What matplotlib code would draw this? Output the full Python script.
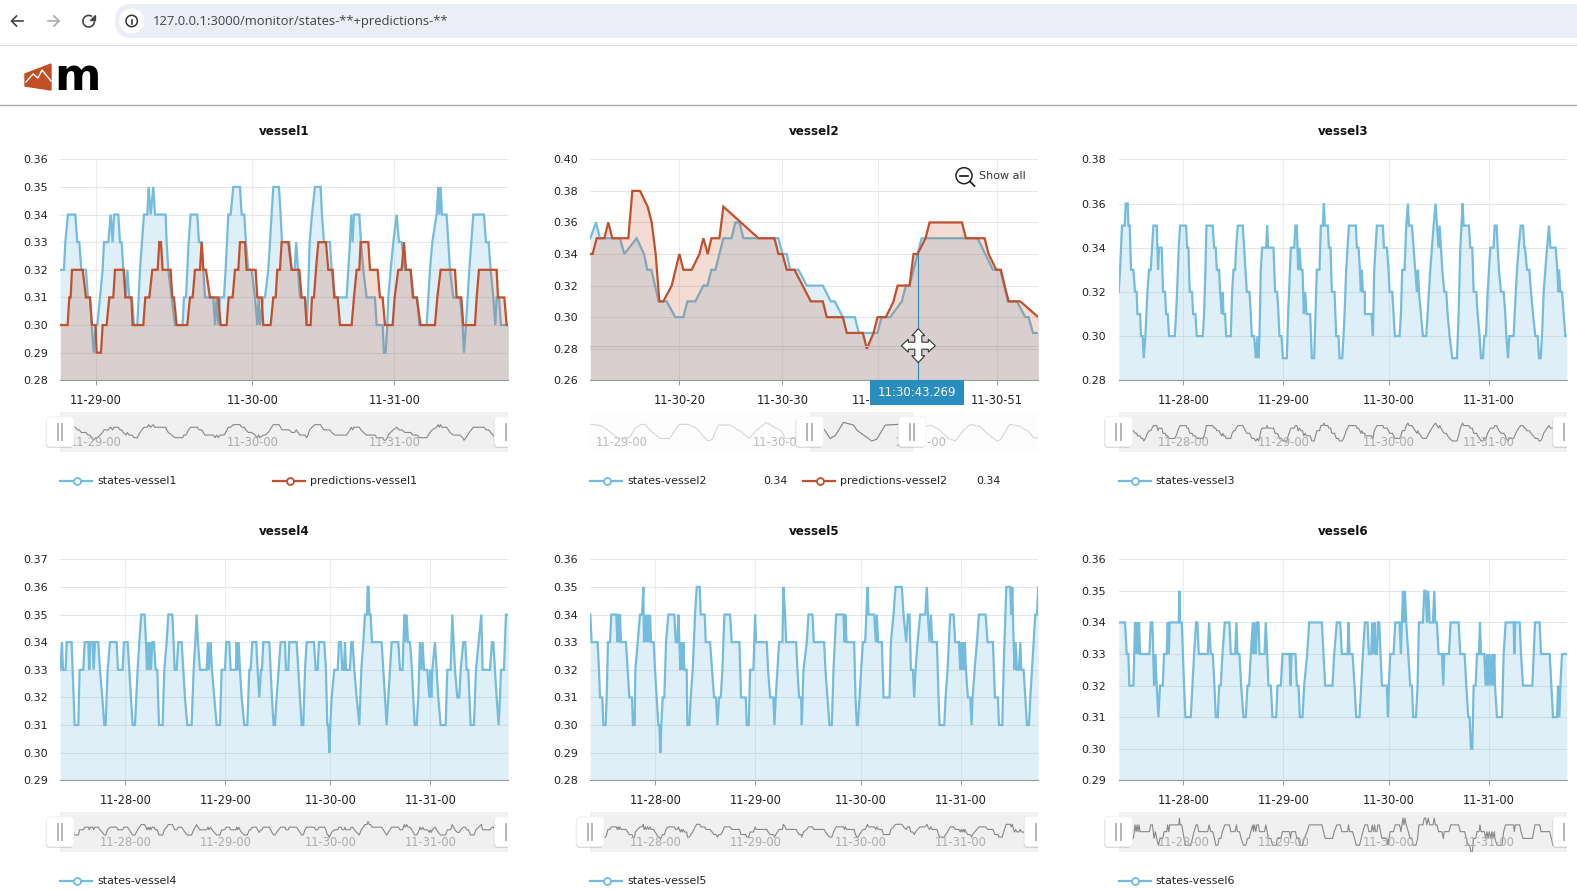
import matplotlib

matplotlib.use("Agg")
import matplotlib.pyplot as plt  # noqa: E402
from matplotlib.patches import Arc, Circle, FancyBboxPatch, Polygon, Rectangle  # noqa: E402

W, H = 1577, 890

STATE = "#73bcdd"
PRED = "#c1502b"
GRID = "#e6e6e6"
VGRID = "#ececec"
AXIS = "#999999"
INK = "#222222"
BAND = "#f0f0f0"
CURSOR = "#2a8dbf"

plt.rcParams.update({"font.family": ["DejaVu Sans"], "font.size": 8})

# each series: (sample position on the category axis, value)
V1_STATES = [
    (181, .32), (192, .32), (196, .33), (204, .34), (226, .34), (232, .33), (238, .33), (244, .32), (258, .32),
    (264, .31), (270, .31), (275, .30), (281, .29), (287, .30), (292, .30), (300, .31), (308, .32), (312, .33),
    (325, .33), (332, .34), (338, .33), (342, .34), (355, .34), (360, .33), (365, .33), (370, .32), (378, .31),
    (382, .32), (388, .31), (396, .31), (402, .30), (412, .30), (416, .31), (420, .32), (426, .33), (432, .34),
    (442, .34), (446, .35), (452, .34), (460, .35), (465, .34), (497, .34), (500, .33), (505, .32), (515, .31),
    (525, .30), (548, .30), (552, .31), (558, .31), (562, .32), (566, .33), (572, .34), (592, .34), (597, .33),
    (605, .33), (610, .32), (615, .31), (640, .31), (645, .30), (650, .31), (655, .30), (660, .31), (672, .31),
    (677, .32), (681, .33), (685, .34), (692, .34), (700, .35), (720, .35), (725, .34), (733, .34), (738, .33),
    (745, .32), (755, .32), (765, .31), (772, .30), (776, .31), (780, .30), (790, .31), (795, .31), (805, .32),
    (810, .33), (815, .34), (820, .35), (837, .35), (842, .34), (846, .33), (868, .33), (875, .32), (884, .32),
    (889, .33), (894, .32), (900, .31), (915, .31), (920, .30), (924, .31), (929, .33), (936, .34), (945, .35),
    (962, .35), (966, .34), (972, .33), (990, .33), (995, .32), (1005, .31), (1040, .31), (1045, .32), (1050, .33),
    (1054, .34), (1058, .33), (1062, .34), (1078, .34), (1083, .33), (1090, .32), (1100, .31), (1125, .31),
    (1130, .30), (1148, .30), (1152, .29), (1157, .29), (1162, .30), (1165, .31), (1172, .32), (1180, .33),
    (1190, .34), (1197, .33), (1205, .33), (1215, .32), (1232, .32), (1238, .31), (1252, .31), (1258, .30),
    (1280, .30), (1285, .31), (1290, .32), (1297, .33), (1310, .34), (1315, .35), (1318, .34), (1322, .35),
    (1326, .34), (1340, .34), (1345, .33), (1350, .32), (1360, .31), (1380, .31), (1388, .30), (1392, .29),
    (1398, .30), (1403, .31), (1408, .32), (1414, .33), (1420, .34), (1452, .34), (1458, .33), (1466, .33),
    (1472, .32), (1480, .31), (1486, .30), (1490, .31), (1497, .31), (1503, .30), (1525, .30),
]
V1_PREDS = [
    (181, .30), (203, .30), (208, .31), (212, .31), (216, .32), (248, .32), (258, .31), (270, .31), (276, .30),
    (287, .30), (290, .29), (303, .29), (308, .30), (320, .30), (328, .31), (340, .31), (345, .32), (372, .32),
    (376, .31), (394, .31), (398, .30), (430, .30), (436, .31), (448, .31), (457, .32), (473, .32), (478, .33),
    (483, .33), (488, .32), (512, .32), (517, .31), (522, .31), (530, .30), (562, .30), (570, .31), (578, .31),
    (585, .32), (600, .32), (605, .33), (610, .32), (618, .32), (630, .31), (655, .31), (662, .30), (680, .30),
    (686, .31), (698, .31), (705, .32), (715, .32), (720, .33), (735, .33), (740, .32), (767, .32), (772, .31),
    (785, .31), (790, .30), (812, .30), (820, .31), (827, .31), (832, .32), (840, .32), (845, .33), (865, .33),
    (875, .32), (898, .32), (905, .31), (915, .31), (920, .30), (932, .30), (936, .31), (942, .31), (948, .32),
    (955, .33), (978, .33), (985, .32), (998, .32), (1003, .31), (1013, .31), (1020, .30), (1055, .30),
    (1062, .31), (1070, .32), (1078, .32), (1082, .33), (1105, .33), (1110, .32), (1133, .32), (1140, .31),
    (1148, .31), (1155, .30), (1178, .30), (1184, .31), (1195, .32), (1205, .32), (1212, .33), (1218, .32),
    (1232, .32), (1240, .31), (1250, .31), (1262, .30), (1305, .30), (1312, .31), (1322, .32), (1365, .32),
    (1370, .31), (1384, .31), (1390, .30), (1425, .30), (1430, .31), (1437, .32), (1490, .32), (1494, .31),
    (1513, .31), (1520, .30), (1525, .30),
]
V2_STATES = [
    (151, .35), (168, .36), (180, .35), (240, .35), (253, .34), (290, .35), (312, .34), (322, .33), (334, .33),
    (356, .31), (380, .31), (406, .30), (430, .30), (442, .31), (466, .31), (490, .32), (502, .32), (514, .33),
    (526, .33), (550, .35), (574, .35), (586, .36), (598, .36), (610, .35), (715, .35), (727, .34), (740, .34),
    (750, .33), (775, .33), (800, .32), (848, .32), (872, .31), (884, .31), (908, .30), (944, .30), (956, .29),
    (1012, .29), (1024, .30), (1050, .30), (1085, .31), (1097, .32), (1108, .32), (1120, .33), (1132, .34),
    (1144, .35), (1312, .35), (1335, .34), (1358, .33), (1380, .33), (1403, .31), (1430, .31), (1455, .30),
    (1465, .30), (1478, .29), (1494, .29),
]
V2_PREDS = [
    (151, .34), (158, .34), (170, .35), (193, .35), (205, .36), (217, .35), (265, .35), (277, .38), (300, .38),
    (323, .37), (335, .36), (347, .34), (358, .31), (370, .31), (395, .32), (418, .34), (430, .33), (455, .33),
    (478, .34), (490, .35), (503, .34), (514, .35), (538, .35), (550, .37), (655, .35), (703, .35), (715, .34),
    (727, .34), (740, .33), (763, .33), (812, .31), (848, .31), (860, .30), (908, .30), (920, .29), (968, .29),
    (980, .28), (1000, .29), (1012, .30), (1037, .30), (1060, .31), (1072, .32), (1108, .32), (1120, .34),
    (1132, .34), (1156, .35), (1168, .36), (1265, .36), (1277, .35), (1333, .35), (1345, .34), (1368, .33),
    (1382, .33), (1393, .32), (1405, .31), (1440, .31), (1494, .30),
]
# vessel2 main view is zoomed, so the slider preview holds the whole series
V2_OVERVIEW = [
    (153, .3525), (185, .3475), (210, .325), (235, .30), (255, .2975), (270, .306), (285, .3375), (303, .3525),
    (315, .3525), (335, .325), (360, .30), (390, .30), (405, .331), (417, .3525), (445, .3525), (470, .3375),
    (500, .294), (507, .29), (517, .2975), (535, .35), (570, .35), (600, .3275), (627, .30), (650, .331),
    (678, .36), (700, .344), (725, .3275), (735, .30), (760, .30), (790, .32), (820, .34), (850, .3375),
    (870, .30), (885, .31), (910, .36), (940, .35), (950, .331), (995, .29), (1010, .2975), (1035, .35),
    (1072, .3525), (1110, .345), (1155, .344), (1170, .35), (1195, .335), (1225, .30), (1245, .29), (1270, .331),
    (1290, .3525), (1320, .344), (1340, .319), (1370, .29), (1380, .294), (1408, .3525), (1435, .3475),
    (1465, .325), (1480, .3025), (1494, .3025),
]
V3_STATES = [
    (176, .32), (180, .33), (183, .34), (186, .35), (194, .35), (197, .36), (203, .36), (205, .35), (209, .35),
    (213, .33), (220, .33), (225, .32), (230, .32), (232, .31), (240, .31), (243, .30), (248, .30), (251, .29),
    (256, .30), (262, .32), (267, .33), (272, .33), (276, .34), (280, .35), (290, .35), (294, .33), (297, .34),
    (305, .34), (309, .32), (315, .32), (318, .31), (323, .31), (327, .30), (344, .30), (348, .31), (351, .32),
    (356, .34), (360, .35), (378, .35), (381, .34), (385, .34), (389, .32), (396, .32), (399, .31), (406, .31),
    (410, .30), (428, .30), (432, .31), (436, .33), (439, .35), (458, .35), (462, .34), (467, .34), (470, .33),
    (477, .33), (480, .32), (485, .31), (488, .32), (490, .31), (495, .31), (498, .30), (512, .30), (516, .32),
    (520, .33), (525, .33), (528, .34), (533, .35), (548, .35), (552, .34), (556, .33), (560, .32), (568, .32),
    (572, .31), (575, .30), (582, .30), (587, .29), (592, .30), (595, .29), (598, .30), (602, .33), (606, .34),
    (618, .34), (621, .35), (624, .34), (640, .34), (645, .32), (651, .32), (655, .31), (658, .30), (664, .30),
    (668, .29), (680, .29), (684, .31), (692, .34), (702, .34), (706, .35), (710, .35), (714, .33), (718, .34),
    (722, .33), (727, .33), (731, .31), (735, .32), (739, .31), (750, .31), (755, .29), (762, .29), (766, .31),
    (770, .33), (778, .33), (782, .35), (788, .35), (791, .36), (794, .35), (803, .35), (806, .34), (811, .34),
    (815, .32), (823, .32), (828, .30), (835, .30), (838, .29), (846, .29), (850, .30), (853, .31), (858, .33),
    (862, .34), (866, .35), (887, .35), (890, .34), (895, .34), (899, .33), (902, .32), (905, .33), (908, .32),
    (914, .32), (914, .31), (934, .31), (938, .30), (942, .33), (946, .34), (950, .35), (968, .35), (971, .34),
    (980, .34), (985, .33), (988, .32), (996, .32), (1000, .31), (1004, .30), (1018, .30), (1022, .31),
    (1026, .33), (1033, .33), (1038, .35), (1043, .36), (1046, .35), (1055, .35), (1060, .34), (1065, .33),
    (1070, .32), (1073, .33), (1076, .32), (1082, .31), (1088, .30), (1098, .30), (1102, .31), (1110, .33),
    (1115, .34), (1120, .35), (1126, .36), (1130, .35), (1135, .34), (1138, .35), (1142, .34), (1146, .33),
    (1152, .32), (1158, .32), (1162, .31), (1168, .30), (1176, .29), (1190, .29), (1195, .31), (1200, .34),
    (1207, .36), (1210, .35), (1226, .35), (1230, .34), (1236, .34), (1240, .32), (1248, .32), (1252, .31),
    (1258, .30), (1262, .29), (1268, .29), (1272, .30), (1277, .30), (1282, .32), (1286, .33), (1290, .34),
    (1300, .34), (1303, .35), (1309, .35), (1312, .34), (1316, .33), (1322, .32), (1330, .32), (1335, .31),
    (1338, .30), (1343, .29), (1347, .30), (1360, .30), (1363, .31), (1370, .33), (1375, .34), (1381, .35),
    (1388, .35), (1392, .34), (1394, .34), (1400, .33), (1407, .33), (1412, .32), (1418, .31), (1425, .30),
    (1432, .30), (1436, .29), (1441, .29), (1445, .30), (1450, .32), (1455, .33), (1460, .34), (1466, .35),
    (1470, .34), (1486, .34), (1491, .33), (1494, .32), (1496, .33), (1500, .32), (1505, .32), (1510, .31),
    (1515, .30), (1519, .30),
]
V4_STATES = [
    (181, .33), (186, .34), (189, .33), (197, .33), (200, .34), (215, .34), (221, .32), (224, .31), (235, .31),
    (239, .33), (250, .33), (254, .34), (265, .34), (268, .33), (271, .34), (278, .34), (281, .33), (285, .34),
    (295, .34), (300, .33), (307, .32), (313, .31), (317, .31), (323, .33), (330, .34), (350, .34), (354, .33),
    (368, .33), (372, .34), (383, .34), (388, .33), (393, .32), (398, .31), (405, .31), (409, .32), (413, .33),
    (418, .34), (424, .35), (434, .35), (438, .34), (441, .33), (445, .34), (447, .33), (451, .34), (453, .33),
    (457, .34), (462, .34), (467, .33), (472, .33), (477, .31), (488, .31), (493, .33), (500, .34), (505, .35),
    (517, .35), (521, .34), (524, .33), (530, .33), (535, .34), (545, .34), (550, .33), (555, .32), (562, .31),
    (575, .31), (581, .33), (586, .34), (590, .35), (594, .34), (600, .33), (620, .33), (624, .34), (627, .33),
    (632, .34), (636, .33), (643, .32), (650, .31), (660, .31), (665, .33), (675, .33), (679, .34), (688, .34),
    (692, .33), (708, .33), (710, .34), (713, .33), (716, .34), (720, .33), (725, .32), (733, .31), (742, .31),
    (748, .33), (752, .33), (757, .34), (769, .34), (773, .33), (778, .32), (783, .33), (786, .33), (790, .34),
    (808, .34), (812, .33), (816, .32), (821, .31), (825, .31), (830, .32), (836, .33), (842, .34), (855, .34),
    (858, .33), (865, .33), (868, .34), (890, .34), (895, .33), (900, .32), (905, .31), (910, .31), (915, .33),
    (920, .34), (942, .34), (947, .33), (953, .33), (957, .34), (973, .34), (978, .33), (982, .31), (985, .31),
    (988, .30), (991, .31), (995, .32), (1003, .33), (1013, .33), (1017, .34), (1023, .34), (1027, .33),
    (1032, .33), (1035, .34), (1038, .33), (1050, .33), (1054, .34), (1058, .34), (1063, .33), (1070, .32),
    (1078, .31), (1084, .33), (1090, .34), (1095, .35), (1101, .35), (1103, .36), (1106, .36), (1108, .35),
    (1112, .35), (1116, .34), (1145, .34), (1150, .33), (1155, .32), (1160, .31), (1165, .32), (1170, .33),
    (1175, .34), (1195, .34), (1200, .33), (1208, .33), (1213, .35), (1216, .34), (1220, .35), (1224, .34),
    (1230, .34), (1236, .33), (1240, .32), (1244, .31), (1250, .31), (1255, .32), (1260, .34), (1264, .33),
    (1268, .34), (1272, .33), (1282, .33), (1288, .32), (1291, .33), (1294, .32), (1297, .33), (1305, .34),
    (1310, .33), (1315, .32), (1322, .31), (1337, .31), (1342, .33), (1352, .33), (1357, .35), (1361, .34),
    (1365, .33), (1372, .32), (1378, .32), (1382, .33), (1390, .34), (1396, .34), (1400, .33), (1405, .33),
    (1412, .31), (1422, .31), (1428, .33), (1436, .34), (1444, .35), (1448, .33), (1470, .33), (1476, .34),
    (1480, .34), (1485, .33), (1490, .32), (1496, .31), (1500, .32), (1503, .33), (1512, .33), (1518, .35),
    (1525, .35),
]
V5_STATES = [
    (151, .34), (155, .33), (173, .33), (177, .32), (180, .31), (187, .31), (190, .30), (197, .30), (200, .31),
    (204, .33), (210, .33), (214, .34), (229, .34), (232, .33), (235, .34), (237, .33), (240, .34), (243, .33),
    (258, .33), (263, .32), (268, .31), (276, .31), (279, .30), (284, .30), (286, .32), (293, .33), (300, .34),
    (306, .34), (310, .35), (312, .33), (316, .34), (319, .33), (323, .34), (326, .33), (330, .34), (333, .33),
    (341, .33), (345, .32), (350, .31), (355, .30), (358, .30), (361, .29), (364, .30), (368, .31), (373, .31),
    (378, .33), (385, .34), (403, .34), (407, .33), (412, .33), (415, .34), (418, .33), (421, .32), (424, .33),
    (427, .32), (430, .33), (433, .32), (440, .32), (442, .30), (448, .30), (452, .31), (458, .32), (465, .34),
    (470, .35), (479, .35), (482, .34), (494, .34), (497, .33), (510, .33), (516, .32), (522, .31), (528, .31),
    (532, .30), (537, .31), (542, .31), (547, .32), (553, .34), (570, .34), (575, .33), (598, .33), (603, .31),
    (617, .31), (620, .30), (626, .30), (630, .32), (640, .32), (645, .34), (648, .33), (680, .33), (684, .32),
    (690, .31), (700, .31), (703, .30), (707, .31), (712, .32), (717, .33), (727, .33), (730, .35), (735, .34),
    (738, .33), (768, .33), (772, .32), (777, .31), (783, .31), (785, .30), (790, .32), (800, .33), (805, .34),
    (817, .34), (821, .33), (852, .33), (856, .32), (862, .31), (868, .30), (875, .30), (880, .32), (888, .34),
    (910, .34), (913, .33), (916, .34), (919, .33), (942, .33), (946, .31), (950, .30), (953, .30), (958, .31),
    (963, .32), (968, .33), (975, .33), (982, .35), (985, .34), (1002, .34), (1007, .33), (1010, .34), (1014, .33),
    (1025, .33), (1030, .31), (1048, .31), (1052, .33), (1060, .34), (1066, .35), (1085, .35), (1090, .34),
    (1098, .33), (1103, .34), (1108, .34), (1112, .32), (1118, .32), (1122, .31), (1126, .32), (1132, .33),
    (1140, .34), (1155, .34), (1160, .35), (1163, .34), (1168, .33), (1172, .34), (1176, .33), (1190, .33),
    (1195, .31), (1198, .30), (1212, .30), (1216, .31), (1222, .32), (1230, .34), (1240, .34), (1245, .33),
    (1256, .33), (1260, .32), (1263, .33), (1266, .32), (1269, .33), (1272, .32), (1274, .33), (1277, .32),
    (1283, .31), (1290, .31), (1294, .30), (1297, .31), (1303, .32), (1310, .33), (1316, .34), (1336, .34),
    (1342, .33), (1358, .33), (1364, .31), (1373, .31), (1376, .30), (1386, .30), (1390, .32), (1398, .35),
    (1410, .35), (1413, .34), (1416, .35), (1420, .33), (1423, .32), (1426, .33), (1430, .32), (1436, .32),
    (1440, .33), (1443, .32), (1450, .32), (1455, .31), (1460, .30), (1466, .30), (1470, .31), (1475, .32),
    (1480, .33), (1485, .34), (1490, .34), (1494, .35),
]
V6_STATES = [
    (176, .34), (195, .34), (200, .33), (205, .33), (208, .32), (220, .32), (225, .34), (228, .33), (231, .34),
    (234, .33), (237, .34), (240, .33), (268, .33), (272, .34), (277, .34), (282, .32), (286, .33), (290, .32),
    (295, .31), (300, .32), (308, .32), (312, .33), (320, .33), (323, .34), (326, .33), (329, .34), (356, .34),
    (358, .35), (360, .34), (365, .34), (372, .32), (376, .31), (392, .31), (397, .32), (402, .33), (408, .34),
    (412, .34), (416, .33), (443, .33), (447, .34), (452, .33), (458, .33), (463, .32), (467, .31), (473, .31),
    (477, .32), (482, .32), (487, .33), (494, .34), (508, .34), (512, .33), (525, .33), (529, .34), (532, .33),
    (538, .33), (543, .32), (550, .31), (557, .31), (562, .32), (567, .32), (572, .33), (578, .34), (580, .33),
    (583, .34), (587, .33), (590, .34), (595, .34), (598, .33), (613, .33), (617, .34), (621, .33), (625, .32),
    (632, .32), (637, .31), (648, .31), (652, .32), (662, .32), (667, .33), (688, .33), (691, .32), (694, .33),
    (706, .33), (710, .32), (715, .32), (719, .31), (727, .31), (732, .32), (741, .33), (747, .34), (785, .34),
    (790, .33), (795, .32), (817, .32), (822, .33), (830, .34), (840, .34), (845, .33), (862, .33), (865, .34),
    (868, .33), (877, .33), (883, .32), (888, .31), (898, .31), (903, .32), (908, .33), (914, .34), (922, .34),
    (926, .33), (933, .33), (936, .34), (940, .33), (943, .34), (946, .33), (950, .33), (953, .34), (957, .34),
    (961, .33), (965, .32), (980, .32), (983, .31), (986, .32), (990, .33), (1000, .33), (1005, .34), (1018, .34),
    (1022, .33), (1025, .34), (1028, .35), (1031, .34), (1034, .35), (1038, .34), (1044, .33), (1050, .32),
    (1055, .32), (1059, .31), (1067, .31), (1072, .32), (1076, .34), (1088, .34), (1092, .35), (1096, .35),
    (1100, .34), (1104, .35), (1108, .34), (1118, .34), (1122, .35), (1125, .34), (1130, .34), (1135, .33),
    (1145, .33), (1149, .32), (1152, .33), (1166, .33), (1171, .34), (1195, .34), (1200, .33), (1213, .33),
    (1218, .32), (1224, .31), (1228, .31), (1232, .30), (1236, .30), (1240, .32), (1246, .32), (1250, .33),
    (1256, .33), (1259, .34), (1262, .33), (1272, .33), (1276, .32), (1280, .33), (1283, .32), (1287, .33),
    (1291, .32), (1295, .33), (1298, .32), (1302, .33), (1304, .32), (1310, .31), (1325, .31), (1330, .33),
    (1336, .34), (1360, .34), (1362, .33), (1365, .34), (1378, .34), (1382, .33), (1388, .32), (1416, .32),
    (1420, .33), (1424, .34), (1438, .34), (1442, .33), (1468, .33), (1473, .32), (1478, .31), (1490, .31),
    (1493, .32), (1497, .31), (1500, .32), (1505, .33), (1519, .33),
]

V1_YTICKS = [.28, .29, .30, .31, .32, .33, .34, .35, .36]
V2_YTICKS = [.26, .28, .30, .32, .34, .36, .38, .40]
V3_YTICKS = [.28, .30, .32, .34, .36, .38]
V4_YTICKS = [.29, .30, .31, .32, .33, .34, .35, .36, .37]
V5_YTICKS = [.28, .29, .30, .31, .32, .33, .34, .35, .36]
V6_YTICKS = [.29, .30, .31, .32, .33, .34, .35, .36]

V1_XTICKS = [287, 757, 1183]
V2_XTICKS = [418, 727, 1012, 1369]
V3_XTICKS = [370, 670, 985, 1285]
V4_XTICKS = [376, 676, 991, 1291]
V5_XTICKS = [346, 646, 961, 1261]
V6_XTICKS = [370, 670, 985, 1285]

V1_XLABELS = ["11-29-00", "11-30-00", "11-31-00"]
V2_XLABELS = ["11-30-20", "11-30-30", "11-30-40", "11-30-51"]
DAY_LABELS = ["11-28-00", "11-29-00", "11-30-00", "11-31-00"]
V2_SLIDER_TICKS = [246, 717, 1141]

CURSOR_SAMPLE = 1132
CURSOR_STATE = .34
CURSOR_VALUE = .2817
CURSOR_TIME = "11:30:43.269"

PANELS = [
    dict(name="vessel1", states=V1_STATES, preds=V1_PREDS, left=60.3, top=159.3, x0=181, x1=1525,
         yticks=V1_YTICKS, xticks=V1_XTICKS, xlabels=V1_XLABELS, mini_y=(.245, .3985)),
    dict(name="vessel2", states=V2_STATES, preds=V2_PREDS, left=590.3, top=159.3, x0=151, x1=1494,
         yticks=V2_YTICKS, xticks=V2_XTICKS, xlabels=V2_XLABELS, mini_y=(.249, .399)),
    dict(name="vessel3", states=V3_STATES, preds=None, left=1118.7, top=159.3, x0=176, x1=1519,
         yticks=V3_YTICKS, xticks=V3_XTICKS, xlabels=DAY_LABELS, mini_y=(.247, .403)),
    dict(name="vessel4", states=V4_STATES, preds=None, left=60.3, top=559.3, x0=181, x1=1525,
         yticks=V4_YTICKS, xticks=V4_XTICKS, xlabels=DAY_LABELS, mini_y=(.245, .398)),
    dict(name="vessel5", states=V5_STATES, preds=None, left=590.3, top=559.3, x0=151, x1=1494,
         yticks=V5_YTICKS, xticks=V5_XTICKS, xlabels=DAY_LABELS, mini_y=(.242, .398)),
    dict(name="vessel6", states=V6_STATES, preds=None, left=1118.7, top=559.3, x0=176, x1=1519,
         yticks=V6_YTICKS, xticks=V6_XTICKS, xlabels=DAY_LABELS, mini_y=(.30, .359)),
]


def px_axes(fig, x0, y0, x1, y1, **kw):
    return fig.add_axes([x0 / W, 1 - y1 / H, (x1 - x0) / W, (y1 - y0) / H], **kw)


def unzip(series):
    return [p[0] for p in series], [p[1] for p in series]


def draw_main(fig, p):
    left = p["left"]
    ax = px_axes(fig, left, p["top"], left + 448, p["top"] + 221, zorder=1)
    ymin, ymax = p["yticks"][0], p["yticks"][-1]
    ax.set_xlim(p["x0"], p["x1"])
    ax.set_ylim(ymin, ymax)
    for side in ("top", "left", "right"):
        ax.spines[side].set_visible(False)
    ax.spines["bottom"].set_color(AXIS)
    ax.spines["bottom"].set_linewidth(0.8)
    ax.set_yticks(p["yticks"])
    ax.set_yticklabels([f"{v:.2f}" for v in p["yticks"]])
    ax.set_xticks(p["xticks"])
    ax.set_xticklabels(p["xlabels"])
    ax.tick_params(axis="y", length=0, pad=9, labelcolor=INK, labelsize=8)
    ax.tick_params(axis="x", length=3.6, width=0.7, color=AXIS, pad=6.6, labelcolor=INK, labelsize=8.3)
    ax.grid(axis="y", color=GRID, linewidth=0.75)
    ax.grid(axis="x", color=VGRID, linewidth=0.75)
    ax.set_axisbelow(True)
    ax.set_title(p["name"], fontweight="bold", fontsize=8.6, pad=17.3, color="#111111")

    xs, ys = unzip(p["states"])
    ax.plot(xs, ys, color=STATE, linewidth=1.6, solid_joinstyle="miter", zorder=2)
    ax.fill_between(xs, ys, ymin, color=STATE, alpha=0.23, linewidth=0, zorder=2.1)
    if p["preds"]:
        xs, ys = unzip(p["preds"])
        ax.fill_between(xs, ys, ymin, color=PRED, alpha=0.2, linewidth=0, zorder=2.2)
        ax.plot(xs, ys, color=PRED, linewidth=1.6, solid_joinstyle="miter", zorder=2.3)
    return ax


def draw_slider(fig, p):
    left, band_top = p["left"], p["top"] + 252.7
    mini = px_axes(fig, left, band_top, left + 448, band_top + 40, zorder=1)
    mini.set_xlim(p["x0"], p["x1"])
    mini.set_ylim(*p["mini_y"])
    mini.axis("off")
    label_y = 0.24
    if p["name"] == "vessel2":
        mini.add_patch(Rectangle((p["x0"], p["mini_y"][0]), p["x1"] - p["x0"], p["mini_y"][1] - p["mini_y"][0],
                                 color="#fdfdfd", linewidth=0))
        mini.axvspan(810, 1117, color=BAND, linewidth=0)
        xs, ys = unzip(V2_OVERVIEW)
        mini.plot(xs, ys, color="#d6d6d6", linewidth=0.8)
        inner, = mini.plot(xs, ys, color="#888888", linewidth=0.8)
        inner.set_clip_path(Rectangle((810, 0), 307, 1, transform=mini.transData))
        ticks, labels = V2_SLIDER_TICKS, ["11-29-00", "11-30-00", "11-31-00"]
        tick_color = "#bdbdbd"
    else:
        mini.add_patch(Rectangle((p["x0"], p["mini_y"][0]), p["x1"] - p["x0"], p["mini_y"][1] - p["mini_y"][0],
                                 color=BAND, linewidth=0))
        xs, ys = unzip(p["states"])
        mini.plot(xs, ys, color="#888888", linewidth=0.8)
        ticks, labels = p["xticks"], p["xlabels"]
        tick_color = "#acacac"
    trans = mini.get_xaxis_transform()
    for tick, label in zip(ticks, labels):
        mini.text(tick, label_y, label, transform=trans, ha="center", va="center",
                  color=tick_color, fontsize=8.3, clip_on=False)


def handle(over, cx, top, clip_right):
    x = cx - 13.7
    parts = [
        FancyBboxPatch((x - 0.8, top + 1.2), 27.4, 30, boxstyle="round,pad=0,rounding_size=4",
                       facecolor="#000000", edgecolor="none", alpha=0.16),
        FancyBboxPatch((x, top), 27.4, 30, boxstyle="round,pad=0,rounding_size=4",
                       facecolor="white", edgecolor="#f2f2f2", linewidth=0.6),
    ]
    for part in parts:
        over.add_patch(part)
        part.set_clip_path(Rectangle((0, 0), clip_right, H, transform=over.transData))
    for off in (11, 15.7):
        ln, = over.plot([x + off, x + off], [top + 7, top + 23], color="#b5b5b5", linewidth=1.4)
        ln.set_clip_path(Rectangle((0, 0), clip_right, H, transform=over.transData))


def legend_entry(over, x, y, color, label):
    over.plot([x, x + 32], [y, y], color=color, linewidth=1.6)
    over.plot([x + 16.3], [y], marker="o", markersize=5, markerfacecolor="white",
              markeredgecolor=color, markeredgewidth=1.3)
    over.text(x + 37, y, label, ha="left", va="center", color=INK, fontsize=7.9)


def draw_browser(over):
    over.add_patch(FancyBboxPatch((115, 4), 1600, 34, boxstyle="round,pad=0,rounding_size=17",
                                  facecolor="#ebeef7", edgecolor="none", clip_on=True))
    over.plot([0, W], [44.5, 44.5], color="#e2e2e2", linewidth=0.8)
    over.plot([0, W], [104.5, 104.5], color="#ababab", linewidth=1)
    # back / forward arrows
    for x0, x1, color in ((23, 11.5, "#444444"), (47.5, 59, "#ababab")):
        over.plot([x0, x1], [21, 21], color=color, linewidth=1.2)
        sign = 1 if x1 > x0 else -1
        over.plot([x1 - sign * 5, x1, x1 - sign * 5], [16, 21, 26], color=color, linewidth=1.2)
    # reload
    over.add_patch(Arc((88.7, 21.2), 11.5, 11.5, theta1=0, theta2=305, color="#444444", linewidth=1.2))
    over.add_patch(Polygon([(94.8, 15), (94.8, 20), (89.8, 20)], color="#444444"))
    # site info
    over.add_patch(Circle((131.7, 21), 12, color="white"))
    over.add_patch(Circle((131.7, 21), 5.7, facecolor="none", edgecolor="#333333", linewidth=1.1))
    over.plot([131.7, 131.7], [20, 24], color="#333333", linewidth=1.2)
    over.plot([131.7, 131.7], [17.6, 18.4], color="#333333", linewidth=1.2)
    over.text(152.5, 21.5, "127.0.0.1:3000/monitor/states-**+predictions-**", ha="left", va="center",
              color="#3f4450", fontsize=9.4, family=["Open Sans", "DejaVu Sans"])
    # logo
    over.add_patch(Polygon([(25, 74), (51, 64), (51, 90), (25, 86)], color="#c14f23"))
    over.plot([26, 33, 38, 42, 51], [82, 74, 78, 70, 81], color="white", linewidth=1)
    over.text(54.5, 90, "m", ha="left", va="baseline", color="black", fontsize=32, fontweight="bold")
    over.plot([55, 63], [82, 91], color="white", linewidth=2.2)


def draw_vessel2_extras(over, ax):
    # crosshair in the chart data space
    ax.plot([CURSOR_SAMPLE, CURSOR_SAMPLE], [CURSOR_STATE, ax.get_ylim()[0]], color=CURSOR, linewidth=0.8, zorder=4)
    ax.axhline(CURSOR_VALUE, color="#c0bebb", linewidth=0.8, zorder=4)
    over.add_patch(Rectangle((870, 380.3), 94, 24.5, facecolor=CURSOR, edgecolor="none"))
    over.text(917, 392.2, CURSOR_TIME, ha="center", va="center", color="white", fontsize=8.4)

    # zoom reset
    over.add_patch(Circle((964, 175.7), 8, facecolor="none", edgecolor="#222222", linewidth=1.1))
    over.plot([960, 968], [175.7, 175.7], color="#222222", linewidth=1.3)
    over.plot([970, 974.5], [181.5, 186], color="#222222", linewidth=1.3)
    over.text(979.3, 175.7, "Show all", ha="left", va="center", color="#333333", fontsize=8)

    # move cursor
    cx, cy = 918.3, 345.7
    t, b, h, a = 17, 10, 6.5, 3.5
    arrow = [(cx, cy - t), (cx + h, cy - b), (cx + a, cy - b), (cx + a, cy - a), (cx + b, cy - a), (cx + b, cy - h),
             (cx + t, cy), (cx + b, cy + h), (cx + b, cy + a), (cx + a, cy + a), (cx + a, cy + b), (cx + h, cy + b),
             (cx, cy + t), (cx - h, cy + b), (cx - a, cy + b), (cx - a, cy + a), (cx - b, cy + a), (cx - b, cy + h),
             (cx - t, cy), (cx - b, cy - h), (cx - b, cy - a), (cx - a, cy - a), (cx - a, cy - b), (cx - h, cy - b)]
    over.add_patch(Polygon(arrow, facecolor="white", edgecolor="#333333", linewidth=0.8, joinstyle="miter"))


def main():
    fig = plt.figure(figsize=(W / 100, H / 100), dpi=100, facecolor="white")
    over = px_axes(fig, 0, 0, W, H, zorder=5)
    over.set_xlim(0, W)
    over.set_ylim(H, 0)
    over.axis("off")
    over.patch.set_alpha(0)

    draw_browser(over)
    main_axes = {}
    for p in PANELS:
        main_axes[p["name"]] = draw_main(fig, p)
        draw_slider(fig, p)
        left, right = p["left"], p["left"] + 448
        top = p["top"] + 257.4
        legend_y = p["top"] + 321.4
        if p["name"] == "vessel2":
            handle(over, 810 / 3 + 540, top, W)
            handle(over, 1117 / 3 + 540, top, W)
        else:
            handle(over, left, top, W)
            handle(over, right, top, right)
        legend_entry(over, left, legend_y, STATE, f"states-{p['name']}")
        if p["preds"]:
            legend_entry(over, left + 213, legend_y, PRED, f"predictions-{p['name']}")
    over.text(763, 480.7, "0.34", ha="left", va="center", color=INK, fontsize=7.9)
    over.text(976.5, 480.7, "0.34", ha="left", va="center", color=INK, fontsize=7.9)
    draw_vessel2_extras(over, main_axes["vessel2"])

    fig.savefig("out.png", dpi=100, facecolor="white")
    plt.close(fig)


if __name__ == "__main__":
    main()
